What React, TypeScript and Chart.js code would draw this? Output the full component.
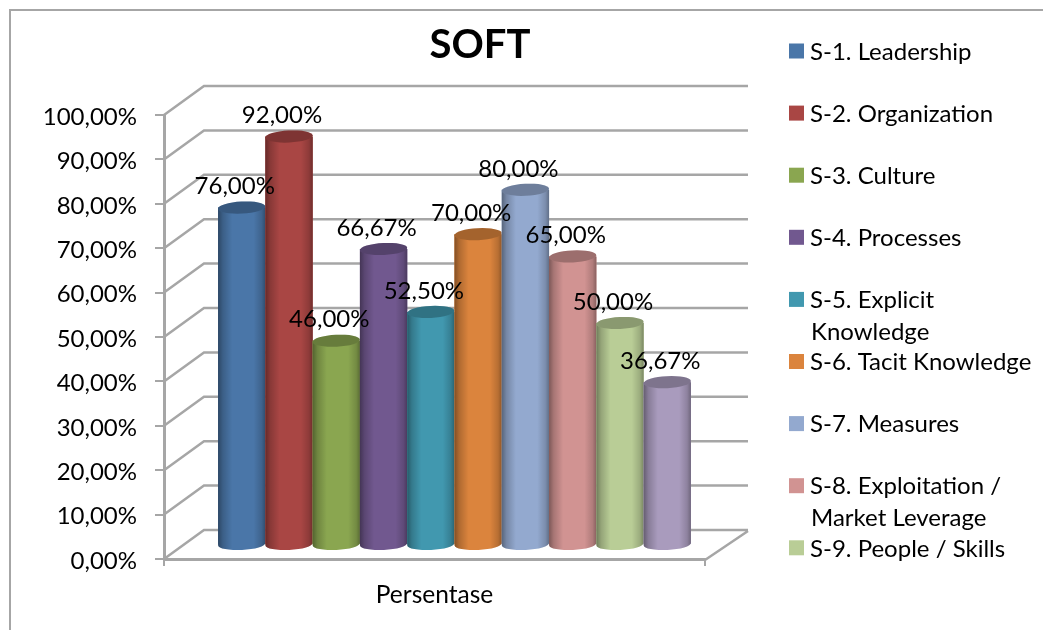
import React, { useEffect, useRef } from "react";
import { Chart, registerables } from "chart.js";

Chart.register(...registerables);

const FONT = "Lato, Carlito, sans-serif";
const categories = ["Persentase"];
const seriesNames = [
  "S-1. Leadership",
  "S-2. Organization",
  "S-3. Culture",
  "S-4. Processes",
  "S-5. Explicit Knowledge",
  "S-6. Tacit Knowledge",
  "S-7. Measures",
  "S-8. Exploitation / Market Leverage",
  "S-9. People / Skills",
  "S-10",
];
const seriesValues = [76, 92, 46, 66.67, 52.5, 70, 80, 65, 50, 36.67];
const seriesColors = ["#4a76a8", "#a94644", "#8aa650", "#71588f", "#4198af", "#db843d", "#93a9cf", "#d19392", "#b9cd96", "#a99bbd"];
const legendLines = [
  ["S-1. Leadership"],
  ["S-2. Organization"],
  ["S-3. Culture"],
  ["S-4. Processes"],
  ["S-5. Explicit", "Knowledge"],
  ["S-6. Tacit Knowledge"],
  ["S-7. Measures"],
  ["S-8. Exploitation /", "Market Leverage"],
  ["S-9. People / Skills"],
];
const yTicks = [0, 10, 20, 30, 40, 50, 60, 70, 80, 90, 100];

const fmt = (v: number) => v.toFixed(2).replace(".", ",") + "%";
const AXIS = "#a6a6a6";
const DX = 20, DY = -14, WALL_X = 40, WALL_Y = -29;

function shade(ctx: CanvasRenderingContext2D, l: number, r: number) {
  const g = ctx.createLinearGradient(l, 0, r, 0);
  g.addColorStop(0, "rgba(0,0,0,0.4)");
  g.addColorStop(0.1, "rgba(0,0,0,0.2)");
  g.addColorStop(0.3, "rgba(0,0,0,0)");
  g.addColorStop(0.75, "rgba(0,0,0,0)");
  g.addColorStop(0.92, "rgba(0,0,0,0.16)");
  g.addColorStop(1, "rgba(0,0,0,0.34)");
  return g;
}

const scene = {
  id: "scene",
  beforeDraw(chart: any) {
    const { ctx, width, height } = chart;
    ctx.save();
    ctx.fillStyle = "#fff";
    ctx.fillRect(0, 0, width, height);
    ctx.strokeStyle = AXIS;
    ctx.lineWidth = 2;
    ctx.beginPath();
    ctx.moveTo(10, height);
    ctx.lineTo(10, 10);
    ctx.lineTo(width, 10);
    ctx.stroke();
    ctx.restore();
  },
  beforeDatasetsDraw(chart: any) {
    const { ctx, chartArea } = chart;
    const y = chart.scales.y;
    ctx.save();
    ctx.strokeStyle = AXIS;
    ctx.lineWidth = 2.5;
    ctx.beginPath();
    yTicks.forEach((t) => {
      const py = y.getPixelForValue(t);
      ctx.moveTo(chartArea.left, py);
      ctx.lineTo(chartArea.left + WALL_X, py + WALL_Y);
      ctx.lineTo(chartArea.right + WALL_X + 3, py + WALL_Y);
    });
    const base = y.getPixelForValue(0) + 1;
    ctx.moveTo(chartArea.right, base);
    ctx.lineTo(chartArea.right + WALL_X + 3, base + WALL_Y);
    ctx.stroke();
    ctx.restore();

    ctx.save();
    ctx.translate(DX, DY);
    chart.data.datasets.forEach((ds: any, i: number) => {
      const meta = chart.getDatasetMeta(i);
      meta.controller.draw();
      meta.data.forEach((el: any) => {
        const p = el.getProps(["x", "y", "base", "width"], true);
        const l = p.x - p.width / 2, r = p.x + p.width / 2;
        const rx = p.width / 2, ry = 6;
        const tilt = -0.05;
        ctx.beginPath();
        ctx.moveTo(l, p.y);
        ctx.lineTo(l, p.base);
        ctx.ellipse(p.x, p.base, rx, ry, tilt, Math.PI, 0, true);
        ctx.lineTo(r, p.y);
        ctx.closePath();
        ctx.fillStyle = ds.backgroundColor;
        ctx.fill();
        ctx.fillStyle = shade(ctx, l, r);
        ctx.fill();
        ctx.beginPath();
        ctx.ellipse(p.x, p.y, rx, ry, tilt, 0, Math.PI * 2);
        ctx.fillStyle = ds.backgroundColor;
        ctx.fill();
        ctx.fillStyle = "rgba(0,0,0,0.25)";
        ctx.fill();
      });
    });
    ctx.restore();
    return false;
  },
  afterDraw(chart: any) {
    const { ctx } = chart;
    const y = chart.scales.y;
    ctx.save();
    ctx.font = `24px ${FONT}`;
    ctx.fillStyle = "#000";
    ctx.textAlign = "center";
    ctx.textBaseline = "middle";
    chart.data.datasets.forEach((ds: any, i: number) => {
      const el = chart.getDatasetMeta(i).data[0];
      const v = ds.data[0];
      ctx.fillText(fmt(v), el.x + 13, y.getPixelForValue(v) - 35);
    });
    ctx.textAlign = "left";
    legendLines.forEach((lines, i) => {
      const cy = 51 + i * 62.1;
      ctx.fillStyle = seriesColors[i];
      ctx.fillRect(789, cy - 7.5, 15, 15);
      ctx.fillStyle = "#000";
      lines.forEach((ln, k) => ctx.fillText(ln, k ? 811 : 810, cy + 1 + k * 32));
    });
    ctx.restore();
  },
};

export default function App() {
  const ref = useRef<HTMLCanvasElement>(null);
  useEffect(() => {
    const chart = new Chart(ref.current!, {
      type: "bar",
      data: {
        labels: categories,
        datasets: seriesNames.map((label, i) => ({
          label,
          data: [seriesValues[i]],
          backgroundColor: seriesColors[i],
          borderWidth: 0,
        })),
      },
      plugins: [scene],
      options: {
        animation: false,
        responsive: false,
        events: [],
        layout: { padding: { left: 0, right: 83, top: 0, bottom: 0 }, autoPadding: false },
        datasets: { bar: { categoryPercentage: 0.874, barPercentage: 1 } },
        plugins: {
          legend: { display: false },
          tooltip: { enabled: false },
          title: {
            display: true,
            text: "SOFT",
            color: "#000",
            font: { family: FONT, size: 40, weight: "bold", lineHeight: 1.2 },
            padding: { top: 21, bottom: 46 },
          },
        },
        scales: {
          x: {
            grid: { drawOnChartArea: false, color: AXIS, tickLength: 7, lineWidth: 2, offset: true },
            border: { color: AXIS, width: 3 },
            ticks: { color: "#000", font: { family: FONT, size: 24.5 }, padding: 14 },
            afterFit: (s: any) => { s.height = 71; },
          },
          y: {
            min: 0,
            max: 100,
            afterFit: (s: any) => { s.width = 164; },
            afterBuildTicks: (s: any) => { s.ticks = yTicks.map((value) => ({ value })); },
            grid: { drawOnChartArea: false, color: AXIS, tickLength: 9, lineWidth: 2 },
            border: { color: AXIS, width: 3 },
            ticks: { color: "#000", font: { family: FONT, size: 24 }, padding: 18, labelOffset: 2, callback: (v: any) => fmt(Number(v)) },
          },
          spacer: {
            position: "right",
            display: true,
            grid: { display: false },
            border: { display: false },
            ticks: { display: false },
            afterFit: (s: any) => { s.width = 255; },
          },
        },
      },
    } as any);
    return () => chart.destroy();
  }, []);
  return (
    <div style={{ position: "absolute", left: 0, top: 0, width: 1043, height: 630 }}>
      <canvas ref={ref} width={1043} height={630} style={{ display: "block", filter: "blur(0.5px)" }} />
    </div>
  );
}
